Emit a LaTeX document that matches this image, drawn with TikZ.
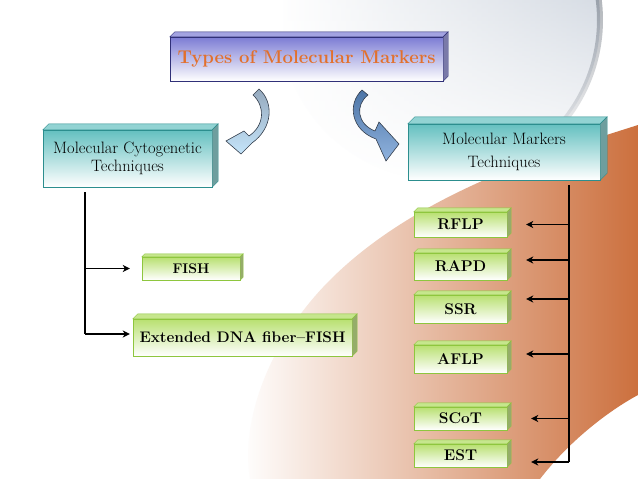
\documentclass[tikz,border=0pt]{standalone}
\usepackage{fontspec}
\usepackage{tikz}
\usetikzlibrary{calc,arrows.meta,fadings}
\definecolor{navy}{RGB}{48,48,120}
\definecolor{lavender}{RGB}{124,124,212}
\definecolor{markorange}{RGB}{226,112,44}
\definecolor{tealtop}{RGB}{100,192,192}
\definecolor{tealline}{RGB}{44,142,142}
\definecolor{leaf}{RGB}{184,224,112}
\definecolor{leafline}{RGB}{142,198,62}
\definecolor{rust}{RGB}{204,112,62}
\definecolor{peach}{RGB}{244,208,180}
\definecolor{mist}{RGB}{184,194,208}
\definecolor{skyarrow}{RGB}{196,228,250}
\definecolor{slatearrow}{RGB}{150,170,190}
\definecolor{bluearrow}{RGB}{96,146,208}
\definecolor{arrowline}{RGB}{52,62,76}

% side and top faces of a box node
\newcommand{\slab}[4]{%
  \filldraw[fill=#3, draw=#4] (#1.north west) -- ++(#2,-#2) -- ($(#1.north east)+(#2,-#2)$) -- (#1.north east) -- cycle;
  \filldraw[fill=#3!75!black, draw=#4] (#1.north east) -- ++(#2,-#2) -- ($(#1.south east)+(#2,-#2)$) -- (#1.south east) -- cycle;
}

\tikzset{
  headbox/.style={draw=navy, top color=lavender, bottom color=white, inner sep=0pt,
    minimum width=273pt, minimum height=44pt, text=markorange},
  techbox/.style={draw=tealline, top color=tealtop, bottom color=white, inner sep=0pt, align=center},
  leafbox/.style={draw=leafline, top color=leaf, bottom color=white, inner sep=0pt},
  trunk/.style={line width=1.4pt},
  >={Stealth[length=7pt,width=7pt,inset=2pt]}
}

\begin{document}
\begin{tikzpicture}[x=1pt,y=-1pt]
  \useasboundingbox (0,0) rectangle (638,479);
  % background
  \fill[white] (0,0) rectangle (638,479);
  \shade[left color=white, right color=mist, path fading=south] (440,20) circle (160);
  \draw[arrowline, line width=6pt, opacity=.45, path fading=south] (440,20) ++(72:160) arc (72:-20:160);
  \shade[left color=white, middle color=peach, right color=rust]
    (638,125) .. controls (560,150) and (420,190) .. (330,280)
    .. controls (270,340) and (240,420) .. (250,479) -- (540,479)
    .. controls (570,440) and (610,410) .. (638,395) -- cycle;

  % boxes
  \node[headbox, font=\fontsize{18.5}{21}\selectfont\bfseries] (types) at (306.5,59) {Types of Molecular Markers};
  \slab{types}{5}{lavender!70!white}{navy}
  \node[techbox, minimum width=169pt, minimum height=57pt, font=\fontsize{16.5}{18}\selectfont] (cyto) at (127.5,158.5) {Molecular Cytogenetic\\Techniques};
  \slab{cyto}{6}{tealtop!70!white}{tealline}
  \node[techbox, minimum width=192pt, minimum height=56pt, font=\fontsize{16.5}{23}\selectfont] (mmt) at (504,152) {Molecular Markers\\Techniques};
  \slab{mmt}{7}{tealtop!70!white}{tealline}
  \node[leafbox, minimum width=98pt, minimum height=23pt, font=\fontsize{14}{16}\selectfont\bfseries] (fish) at (191,268.5) {FISH};
  \slab{fish}{3}{leaf!80!white}{leafline}
  \node[leafbox, minimum width=219pt, minimum height=37pt, font=\fontsize{15.3}{17}\selectfont\bfseries] (fiber) at (242.5,337.5) {Extended DNA fiber--FISH};
  \slab{fiber}{5}{leaf!80!white}{leafline}
  \foreach \n/\y/\h/\t in {rflp/224.5/25/RFLP, rapd/266.5/27/RAPD, ssr/309/28/SSR, aflp/359/28/AFLP, scot/418.5/23/SCoT, est/455.5/23/EST}{
    \node[leafbox, minimum width=93pt, minimum height=\h pt, font=\fontsize{15.5}{17}\selectfont\bfseries] (\n) at (460.5,\y) {\t};
    \slab{\n}{4}{leaf!80!white}{leafline}
  }

  % curved arrows
  \shade[top color=slatearrow, bottom color=skyarrow, draw=arrowline, line width=0.6pt]
    (259,89) .. controls (274,102) and (273,128) .. (252,143) -- (241,154) -- (226,141) -- (244,131) -- (249,136)
    .. controls (265,125) and (265,106) .. (253,95) -- cycle;
  \shade[top color=bluearrow!80!black, bottom color=bluearrow!70!white, draw=arrowline, line width=0.6pt]
    (362,90) .. controls (347,104) and (351,130) .. (376,139) -- (386,161) -- (399,144) -- (379,122) -- (375,131)
    .. controls (357,124) and (355,105) .. (368,95) -- cycle;

  % left branch
  \coordinate (ctop) at (85,192);
  \coordinate (cbot) at (85,334);
  \draw[trunk] (ctop) -- (cbot);
  \draw[trunk,->] (ctop |- fish.west) -- ([xshift=-12pt]fish.west);
  \draw[trunk,->] (cbot) -- ($(cbot -| fiber.west)+(-3,0)$);

  % right branch
  \coordinate (mtop) at (569,185);
  \coordinate (mbot) at (569,462);
  \draw[trunk] (mtop) -- (mbot);
  \foreach \n/\dy/\gap in {rflp/0/19, rapd/6.5/19, ssr/10/19, aflp/5/19, scot/0/24, est/-6.5/24}
    \draw[trunk,->] ($(mtop |- \n.east)+(0,-\dy)$) -- ($(\n.east)+(\gap,-\dy)$);
\end{tikzpicture}
\end{document}
